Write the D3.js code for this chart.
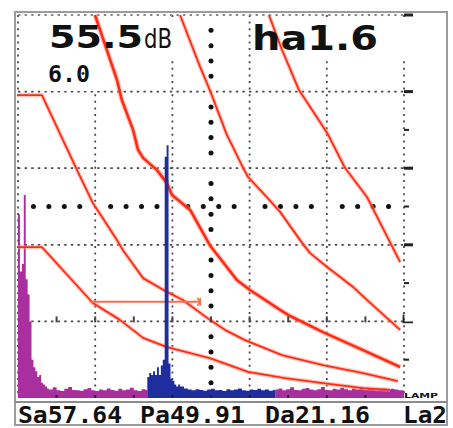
<!DOCTYPE html>
<html><head><meta charset="utf-8">
<script src="https://cdn.jsdelivr.net/npm/d3@7"></script>
<style>html,body{margin:0;padding:0;background:#fff;}svg{display:block}</style>
</head><body>
<svg id="c" width="453" height="428"></svg>
<script>
// ---------- data ----------
const readoutGain = "55.5";
const readoutUnit = "dB";
const readoutStep = "6.0";
const readoutHa = "ha1.6";
const footerLabels = ["Sa57.64", "Pa49.91", "Da21.16", "La2"];
const gridTicks = [0, 20, 40, 60, 80, 100];

// A-scan echo: [x % of screen, amplitude % of screen height], step bins
const echoMagentaLeft = [[0,48],[0.5,33],[1,35],[1.5,53],[2,31],[2.5,27],[3,20],[3.5,10],[4,8],[4.5,7],[5,5.5],[5.5,6],[6,4],[6.5,3.5],[7,3],[7.5,2.5],[8,2.2],[9,2.8],[10,2],[11,1.8],[12,2.4],[13,2.9],[14,2.1],[15,2],[16,1.9],[17,2.3],[18,2.6],[19,2],[20,1.8],[21,2.2],[22,2],[23,2.5],[24,2.1],[25,1.9],[26,2.4],[27,2],[28,2.2],[29,2.7],[30,2],[31,1.8],[32,2.3],[33,2.1],[33.5,2.1]];
const echoBlue = [[33.5,5.5],[34,6.5],[34.5,6],[35,7],[35.5,6],[36,8],[36.5,6],[37,8.5],[37.5,10],[38,63],[38.5,66],[39,9],[39.5,5],[40,4.5],[40.5,3.5],[41,3],[41.5,3.5],[42,3],[42.5,3],[43,2.5],[44,2.2],[45,2],[46,2.3],[47,2.1],[48,1.9],[49,2.2],[50,2.4],[51,2],[52,2.1],[53,1.8],[54,2.3],[55,2],[56,2.2],[57,2.5],[58,2],[59,1.9],[60,2.2],[61,2.1],[62,2.4],[63,2],[64,2.2],[65,1.9],[66,2.1],[66.7,2.1]];
const echoMagentaRight = [[66.7,2.2],[67.5,2.5],[68.5,2],[69.5,2.3],[70.5,2.8],[71.5,2.1],[72.5,2],[73.5,2.4],[74.5,2.6],[75.5,2.2],[76.5,2],[77.5,2.3],[78.5,2.9],[79.5,2.1],[80.5,2],[81.5,2.4],[82.5,2.2],[83.5,2.7],[84.5,2.3],[85.5,2],[86.5,2.5],[87.5,2.2],[88.5,2.8],[89.5,2.1],[90.5,2.4],[91.5,2.6],[92.5,2],[93.5,2.3],[94.5,2.5],[95.5,2.1],[96.5,2.4],[97.5,2.2],[98.5,2],[100,2]];

// DAC / TCG curves: [x %, amplitude %]
const dacMain = [[19.95,100],[25.65,83.0],[26.9,77.8],[29.8,70.0],[31.1,64.8],[32.4,62.7],[36.0,59.5],[38.6,56.1],[39.9,53.0],[44.6,49.1],[49.7,39.9],[56.7,30.8],[60.1,28.2],[67.9,23.0],[70.5,21.4],[79.0,17.2],[89.4,12.5],[99.0,8.1]];
const dacUpper1 = [[41.97,100],[47.2,86.4],[49.7,80.4],[54.1,68.7],[55.7,65.5],[58.3,60.1],[59.6,57.7],[63.5,53.5],[67.9,48.6],[71.2,43.9],[73.6,40.5],[75.6,37.9],[80.1,34.2],[86.8,29.0],[90.4,25.6],[99.0,17.8]];
const dacUpper2 = [[65.0,100],[68.4,90.9],[72.8,80.4],[80.1,69.2],[84.7,60.1],[90.4,52.5],[99.0,35.5]];
const dacLower1 = [[0,79.1],[6.2,79.1],[15.3,59.5],[19.4,50.9],[25.6,41.3],[27.2,38.6],[32.4,31.3],[38.6,27.7],[42.7,25.6],[49.7,20.4],[53.6,17.8],[58.8,15.1],[68.4,11.2],[79.0,8.6],[89.4,6.5],[98.4,4.4]];
const dacLower2 = [[0,39.4],[6.2,39.4],[19.4,24.8],[26.4,20.4],[32.4,15.7],[38.6,13.3],[49.7,10.4],[59.6,6.8],[69.2,5.2],[79.0,3.9],[89.4,2.6],[96.4,2.1]];

const gateStartEnd = [18.6, 47.2];
const gateLevel = 25.1;

// ---------- drawing ----------
const svg = d3.select("#c");
const x = d3.scaleLinear().domain([0, 100]).range([18, 404]);
const y = d3.scaleLinear().domain([0, 100]).range([398, 15]);

svg.append("rect").attr("width", 453).attr("height", 428).attr("fill", "#fff");

// dotted grid
const grid = svg.append("g");
grid.selectAll("line.v").data(gridTicks).join("line")
  .attr("x1", d => x(d)).attr("x2", d => x(d))
  .attr("y1", y(100)).attr("y2", y(0))
  .attr("stroke", "#4a4a4a").attr("stroke-width", 1.8).attr("stroke-dasharray", "2,4.6");
grid.selectAll("line.h").data(gridTicks.filter(d => d > 0)).join("line")
  .attr("y1", d => y(d)).attr("y2", d => y(d))
  .attr("x1", x(0)).attr("x2", x(100))
  .attr("stroke", d => d === 100 ? "#8a8a8a" : "#4a4a4a").attr("stroke-width", 1.8).attr("stroke-dasharray", "2.4,4.2");

// centre cross of bold dots
const dotSteps = d3.range(4, 100, 4).filter(v => v % 20 !== 0);
grid.selectAll("circle.h").data(dotSteps).join("circle")
  .attr("cx", d => x(d)).attr("cy", y(50)).attr("r", 2.5).attr("fill", "#111");
grid.selectAll("circle.v").data(dotSteps).join("circle")
  .attr("cx", x(50)).attr("cy", d => y(d)).attr("r", 2.5).attr("fill", "#111");

// white readout panels masking grid
[[40, 17, 136, 41], [40, 58, 61, 33], [251, 17, 162, 41]].forEach(r => {
  svg.append("rect").attr("x", r[0]).attr("y", r[1]).attr("width", r[2]).attr("height", r[3]).attr("fill", "#fff");
});

// right-edge scale marks
const marks = svg.append("g").attr("fill", "#222");
[100, 80, 60, 40].forEach(v => marks.append("rect").attr("x", x(100)).attr("y", y(v) - 1.5).attr("width", 9).attr("height", 3));
[70, 50, 30, 10].forEach(v => marks.append("rect").attr("x", x(100)).attr("y", y(v) - 1).attr("width", 5).attr("height", 2));
marks.append("path").attr("d", `M${x(100)-0.5},${y(20)-7}V${y(20)+1}H${x(100)+9}`)
  .attr("fill", "none").attr("stroke", "#222").attr("stroke-width", 1.8);

// echo envelope
function echo(pairs, color) {
  const area = d3.area().x(d => x(d[0])).y0(y(0)).y1(d => y(d[1])).curve(d3.curveStepAfter);
  svg.append("path").datum(pairs).attr("d", area).attr("fill", color);
}
echo(echoMagentaLeft, "#a92f9f");
echo(echoMagentaRight, "#a92f9f");

// DAC curves
const line = d3.line().x(d => x(d[0])).y(d => y(d[1]));
function curve(pts, w) {
  svg.append("path").datum(pts).attr("d", line).attr("fill", "none")
    .attr("stroke", "#ff8f72").attr("stroke-opacity", 0.5).attr("stroke-width", w + 2.4)
    .attr("stroke-linejoin", "round");
  svg.append("path").datum(pts).attr("d", line).attr("fill", "none")
    .attr("stroke", "#ff2a18").attr("stroke-width", w).attr("stroke-linejoin", "round");
}
curve(dacUpper2, 1.8);
curve(dacUpper1, 1.8);
curve(dacLower1, 1.8);
curve(dacLower2, 1.8);
curve(dacMain, 2.6);

// gate
svg.append("line").attr("x1", x(gateStartEnd[0])).attr("x2", x(gateStartEnd[1]))
  .attr("y1", y(gateLevel)).attr("y2", y(gateLevel))
  .attr("stroke", "#ff6a48").attr("stroke-width", 2);
svg.append("path")
  .attr("d", `M${x(gateStartEnd[1]) - 3},${y(gateLevel) - 4}L${x(gateStartEnd[1])},${y(gateLevel)}L${x(gateStartEnd[1]) - 3},${y(gateLevel) + 4}M${x(gateStartEnd[1])},${y(gateLevel) - 4}V${y(gateLevel) + 4}`)
  .attr("fill", "none").attr("stroke", "#ff6a48").attr("stroke-width", 1.6);

// blue echo in gate region
echo(echoBlue, "#1f2e9e");

// small tick marks on baseline and on 20% line
const tickX = d3.range(10, 100, 10);
svg.append("g").selectAll("rect").data(tickX).join("rect")
  .attr("x", d => x(d) - 1).attr("y", y(0) - 3).attr("width", 2).attr("height", 3).attr("fill", "#222");
svg.append("g").selectAll("rect").data(tickX).join("rect")
  .attr("x", d => x(d) - 1).attr("y", y(20) - 5).attr("width", 2).attr("height", 6).attr("fill", "#444");

// frame
svg.append("rect").attr("x", 15).attr("y", 12).attr("width", 432).attr("height", 413)
  .attr("fill", "none").attr("stroke", "#9c9c9c").attr("stroke-width", 2);
svg.append("line").attr("x1", 15).attr("x2", 447).attr("y1", 402).attr("y2", 402)
  .attr("stroke", "#8c8c8c").attr("stroke-width", 2);

// texts
function txt(s, px, py, size, len, weight, family) {
  svg.append("text").attr("x", px).attr("y", py).text(s)
    .attr("font-family", family).attr("font-size", size).attr("font-weight", weight)
    .attr("fill", "#111").attr("textLength", len).attr("lengthAdjust", "spacingAndGlyphs");
}
txt(readoutGain, 49, 48, 31.5, 94, "bold", "DejaVu Sans");
txt(readoutUnit, 144, 48, 27, 28, "normal", "DejaVu Sans");
txt(readoutHa, 252, 50, 33, 126, "bold", "DejaVu Sans");
txt(readoutStep, 48, 82, 23, 42, "bold", "DejaVu Sans Mono");
const footX = [18, 140, 265, 403], footW = [104, 105, 105, 44];
footerLabels.forEach((s, i) => txt(s, footX[i], 423, 23, footW[i], "bold", "DejaVu Sans Mono"));
txt("LAMP", 404, 398, 7, 34, "bold", "DejaVu Sans");
</script>
</body></html>
